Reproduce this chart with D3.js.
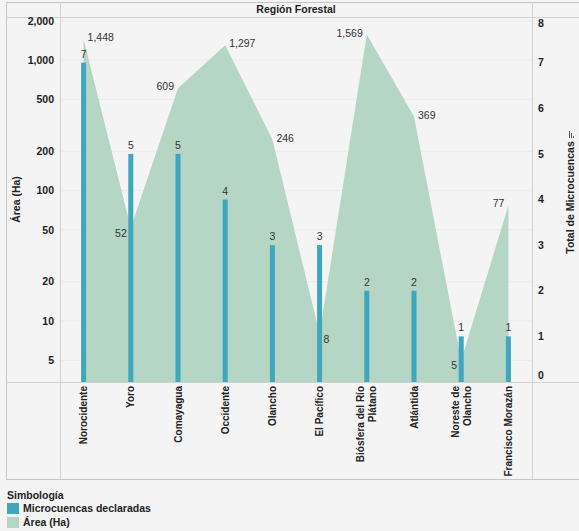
<!DOCTYPE html>
<html><head><meta charset="utf-8">
<script src="https://cdn.jsdelivr.net/npm/d3@7/dist/d3.min.js"></script>
<style>
html,body{margin:0;padding:0;background:#f4f4f4;}
svg{display:block;font-family:"Liberation Sans",Arial,sans-serif;}
</style></head>
<body><svg id="c" width="579" height="531"></svg>
<script>
const categories = ["Norocidente","Yoro","Comayagua","Occidente","Olancho","El Pacífico","Biósfera del Río\nPlátano","Atlántida","Noreste de\nOlancho","Francisco Morazán"];
const areaHa = [1448, 52, 609, 1297, 246, 8, 1569, 369, 5, 77];
const microcuencas = [7, 5, 5, 4, 3, 3, 2, 2, 1, 1];
const leftTicks = [5, 10, 20, 50, 100, 200, 500, 1000, 2000];
const rightTicks = [0, 1, 2, 3, 4, 5, 6, 7, 8];
const labelSide = ["right","left","left","right","right","right","left","right","left","left"];

const svg = d3.select("#c");
const L = 60, R = 532, T = 17, B = 382;
const barColor = "#3ea6bd", areaColor = "#b5d5c5", lineCol = "#d2d2d2", txt = "#333";

const x = d3.scaleBand().domain(categories).range([L, R]).padding(0);
const yL = d3.scaleLog().domain([3.41, 2140]).range([B, T]);
const yR = d3.scaleLinear().domain([0, 8]).range([B, T]);
const cx = d => x(d) + x.bandwidth() / 2;

// gridlines
svg.append("g").selectAll("line").data(leftTicks).join("line")
  .attr("x1", L).attr("x2", R).attr("y1", d => yL(d)).attr("y2", d => yL(d))
  .attr("stroke", "#eaeaea").attr("stroke-width", 1);

// area
const pts = categories.map((c, i) => ({c, v: areaHa[i]}));
svg.append("path").datum(pts)
  .attr("d", d3.area().x(d => cx(d.c)).y0(B).y1(d => yL(d.v)))
  .attr("fill", areaColor);

// bars
const bw = 5;
svg.append("g").selectAll("rect").data(categories).join("rect")
  .attr("x", d => cx(d) - bw / 2)
  .attr("width", bw)
  .attr("y", (d, i) => yR(microcuencas[i]))
  .attr("height", (d, i) => B - yR(microcuencas[i]))
  .attr("fill", barColor);

// bar labels
svg.append("g").selectAll("text").data(categories).join("text")
  .attr("x", d => cx(d)).attr("y", (d, i) => yR(microcuencas[i]) - 5)
  .attr("text-anchor", "middle").attr("font-size", 10.5).attr("fill", txt)
  .text((d, i) => microcuencas[i]);

// area labels
const fmt = d3.format(",");
svg.append("g").selectAll("text").data(pts).join("text")
  .attr("x", (d, i) => cx(d.c) + (labelSide[i] === "right" ? 4 : -4))
  .attr("y", (d, i) => {
    const prev = i > 0 ? areaHa[i-1] : 0, next = i < areaHa.length - 1 ? areaHa[i+1] : 0;
    const isMin = d.v < prev && d.v < next;
    return yL(d.v) + (isMin ? 9 : 2);
  })
  .attr("text-anchor", (d, i) => labelSide[i] === "right" ? "start" : "end")
  .attr("font-size", 10.5).attr("fill", txt)
  .text(d => fmt(d.v));

// frame lines
const ln = (x1, y1, x2, y2, c) => svg.append("line").attr("x1", x1).attr("y1", y1).attr("x2", x2).attr("y2", y2)
  .attr("stroke", c || lineCol).attr("stroke-width", 1).attr("shape-rendering", "crispEdges");
ln(6, 2, 579, 2, "#c6c6c6");
ln(6, 2, 6, 479, "#c6c6c6");
ln(6, 479, 579, 479, "#c6c6c6");
ln(6, T, 579, T);
ln(6, B, 579, B);
ln(L, 2, L, 479);
ln(R, 2, R, 479);

// header
svg.append("text").attr("x", (L + R) / 2).attr("y", 13).attr("text-anchor", "middle")
  .attr("font-size", 10.5).attr("font-weight", "bold").attr("fill", "#222").text("Región Forestal");

// left axis
svg.append("g").selectAll("text").data(leftTicks).join("text")
  .attr("x", 54).attr("y", d => yL(d)).attr("dy", "0.35em").attr("text-anchor", "end")
  .attr("font-size", 10.5).attr("font-weight", "bold").attr("fill", "#222")
  .text(d => fmt(d));
svg.append("text").attr("transform", `translate(20,${(T + B) / 2}) rotate(-90)`)
  .attr("text-anchor", "middle").attr("font-size", 10.5).attr("font-weight", "bold").attr("fill", "#222")
  .text("Área (Ha)");

// right axis
svg.append("g").selectAll("text").data(rightTicks).join("text")
  .attr("x", 538).attr("y", d => Math.max(23, Math.min(375, yR(d)))).attr("dy", "0.35em")
  .attr("font-size", 10.5).attr("font-weight", "bold").attr("fill", "#222")
  .text(d => d);
svg.append("text").attr("transform", `translate(574,${(T + B) / 2 - 2}) rotate(-90)`)
  .attr("text-anchor", "middle").attr("font-size", 10.5).attr("font-weight", "bold").attr("fill", "#222")
  .text("Total de Microcuencas");
// sort icon
const ic = svg.append("g").attr("fill", "#555").attr("shape-rendering", "crispEdges");
ic.append("rect").attr("x", 569).attr("y", 131).attr("width", 1).attr("height", 7);
ic.append("rect").attr("x", 571).attr("y", 133).attr("width", 1).attr("height", 5);
ic.append("rect").attr("x", 573).attr("y", 136).attr("width", 1).attr("height", 2);

// x labels
const xl = svg.append("g").selectAll("text").data(categories).join("text")
  .attr("transform", d => `translate(${cx(d)},386) rotate(-90)`)
  .attr("text-anchor", "end").attr("font-size", 10).attr("font-weight", "bold").attr("fill", "#222");
xl.each(function(d) {
  const lines = d.split("\n");
  const t = d3.select(this);
  lines.forEach((s, i) => {
    const off = (i - (lines.length - 1) / 2) * 12;
    t.append("tspan").attr("x", 0).attr("y", off).attr("dy", "0.35em").text(s);
  });
});

// legend
svg.append("text").attr("x", 7).attr("y", 499).attr("font-size", 10.5).attr("font-weight", "bold").attr("fill", "#222").text("Simbología");
const leg = [["Microcuencas declaradas", barColor], ["Área (Ha)", areaColor]];
leg.forEach((l, i) => {
  svg.append("rect").attr("x", 7).attr("y", 503 + i * 14).attr("width", 12).attr("height", 11).attr("fill", l[1]);
  svg.append("text").attr("x", 23).attr("y", 512 + i * 14).attr("font-size", 10.5).attr("font-weight", "bold").attr("fill", "#222").text(l[0]);
});
</script></body></html>
